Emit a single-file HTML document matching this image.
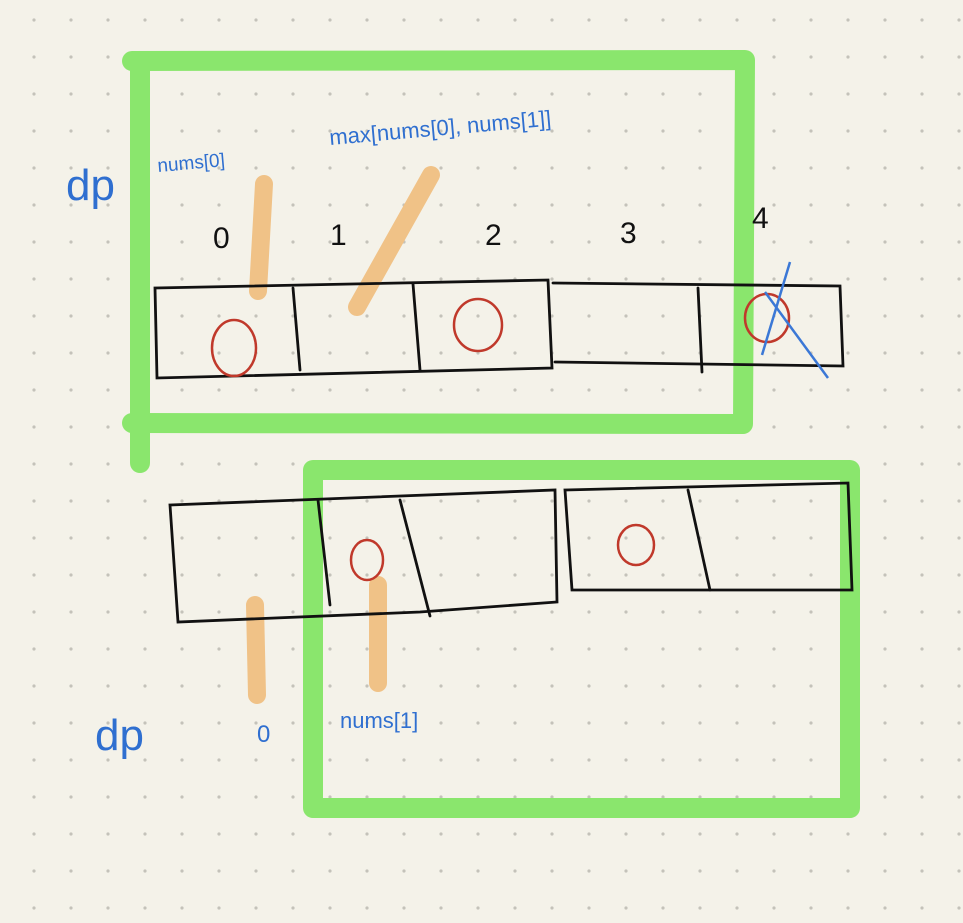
<!DOCTYPE html>
<html><head><style>
html,body{margin:0;padding:0;background:#f4f2e9;}
svg{display:block}
</style></head><body>
<svg width="963" height="923" viewBox="0 0 963 923" xmlns="http://www.w3.org/2000/svg">
<defs>
<pattern id="d" x="15" y="1" width="37" height="37" patternUnits="userSpaceOnUse">
<circle cx="19" cy="19" r="1.6" fill="#c4c2ba"/>
</pattern>
</defs>
<rect width="963" height="923" fill="#f4f2e9"/>
<rect width="963" height="923" fill="url(#d)"/>
<g stroke="#8ae66d" stroke-width="20" stroke-linecap="round" stroke-linejoin="round" fill="none">
<path d="M132 61 L745 60 L743 424 L132 423"/>
<path d="M140 65 L140 463"/>
<path d="M313 470 L850 470 L850 808 L313 808 Z"/>
</g>
<g stroke="#f0c287" stroke-width="18" stroke-linecap="round" fill="none">
<path d="M264 184 L258 291"/>
<path d="M431 175 L357 307"/>
<path d="M255 605 L257 695"/>
<path d="M378 585 L378 683"/>
</g>
<g stroke="#111" stroke-width="2.8" fill="none" stroke-linecap="round">
<path d="M155 288 L548 280 L552 368 L157 378 Z"/>
<path d="M293 288 L300 370"/><path d="M413 284 L420 370"/>
<path d="M553 283 L840 286 L843 366 L555 362"/>
<path d="M698 288 L702 372"/>
<path d="M170 505 L555 490 L557 602 L420 612 L178 622 Z"/>
<path d="M318 500 L330 605"/><path d="M400 500 L430 616"/>
<path d="M565 490 L848 483 L852 590 L572 590 Z"/>
<path d="M688 490 L710 590"/>
</g>
<g stroke="#c0392b" stroke-width="2.5" fill="none">
<ellipse cx="234" cy="348" rx="22" ry="28"/>
<ellipse cx="478" cy="325" rx="24" ry="26"/>
<ellipse cx="767" cy="318" rx="22" ry="24"/>
<ellipse cx="367" cy="560" rx="16" ry="20"/>
<ellipse cx="636" cy="545" rx="18" ry="20"/>
</g>
<g stroke="#3b78d6" stroke-width="2.5" fill="none">
<path d="M790 262 L762 355"/><path d="M765 292 L828 378"/>
</g>
<g font-family="Liberation Sans, sans-serif">
<text x="66" y="200" font-size="44" fill="#2f6fd0">dp</text>
<text x="158" y="172" font-size="19" fill="#2f6fd0" transform="rotate(-5 158 172)">nums[0]</text>
<text x="330" y="145" font-size="22" fill="#2f6fd0" transform="rotate(-5 330 145)">max[nums[0], nums[1]]</text>
<text x="95" y="750" font-size="44" fill="#2f6fd0">dp</text>
<text x="257" y="742" font-size="24" fill="#2f6fd0">0</text>
<text x="340" y="728" font-size="22" fill="#2f6fd0">nums[1]</text>
<g font-size="30" fill="#111">
<text x="213" y="248">0</text><text x="330" y="245">1</text><text x="485" y="245">2</text><text x="620" y="243">3</text><text x="752" y="228">4</text>
</g>
</g>
</svg>
</body></html>
